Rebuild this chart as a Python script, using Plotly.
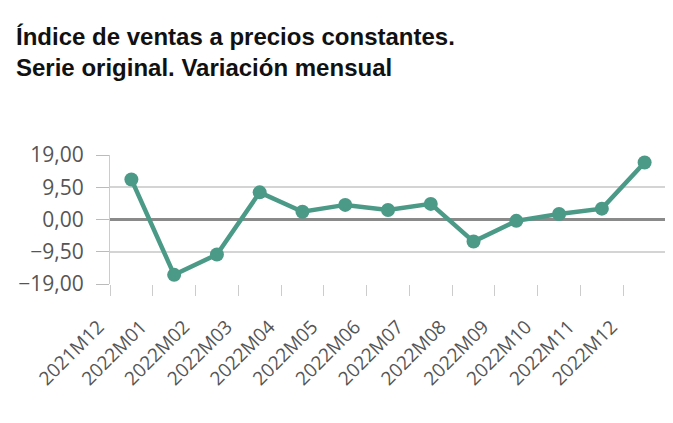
import plotly.graph_objects as go

# periodos y variacion mensual (%)
periodos = ['2021M12', '2022M01', '2022M02', '2022M03', '2022M04', '2022M05', '2022M06',
            '2022M07', '2022M08', '2022M09', '2022M10', '2022M11', '2022M12']
variacion = [11.8, -16.3, -10.3, 8.0, 2.3, 4.3, 2.8, 4.6, -6.5, -0.4, 1.6, 3.2, 16.8]
y_ticks = [-19, -9.5, 0, 9.5, 19]

color = '#4b9a87'

fig = go.Figure(
    data=[go.Scatter(
        x=periodos, y=variacion, mode='lines+markers',
        line=dict(color=color, width=4.5),
        marker=dict(color=color, size=14),
        showlegend=False
    )]
)

# la pagina tiene 8px de margen en body, se descuenta aqui
fig.update_layout(
    width=673, height=423,
    paper_bgcolor='white', plot_bgcolor='white',
    separators=',.',
    margin=dict(l=102, r=15, t=147, b=147),
    title=dict(
        text='Índice de ventas a precios constantes.<br>Serie original. Variación mensual',
        x=8 / 673, xanchor='left', y=1 - 37 / 423, yanchor='top',
        font=dict(family='Liberation Sans, Arial', size=24, color='#111111', weight='bold')
    ),
    xaxis=dict(
        type='category', tickson='boundaries', tickangle=-45,
        ticks='outside', ticklen=11, tickcolor='#cccccc', tickwidth=1,
        showgrid=False, showline=False, zeroline=False, automargin=False,
        tickfont=dict(family='Open Sans', size=19, color='#555555'),
        ticklabelshift=-33, ticklabelstandoff=27,
        range=[-0.5, len(periodos) - 0.5]
    ),
    yaxis=dict(
        range=[-19, 19], tickvals=y_ticks, tickformat='.2f',
        ticks='outside', ticklen=13, tickcolor='#bbbbbb',
        showgrid=True, gridcolor='#d4d4d4', gridwidth=1.5,
        zeroline=True, zerolinecolor='#8a8a8a', zerolinewidth=3,
        showline=True, linecolor='#cccccc', linewidth=1, automargin=False,
        ticklabelstandoff=8,
        tickfont=dict(family='Open Sans', size=21, color='#555555')
    )
)

fig.write_html('out.html')
